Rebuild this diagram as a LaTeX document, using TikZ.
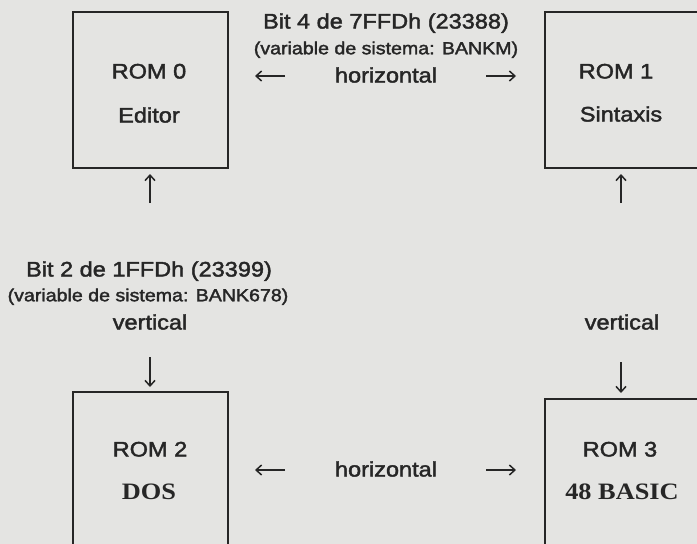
\documentclass[tikz,border=0pt]{standalone}
\usepackage{fontspec}
\setmainfont{Liberation Sans}[FakeStretch=1.12,FakeBold=2]
\newfontfamily\serifbold{Liberation Serif}[FakeStretch=1.12]
\usetikzlibrary{arrows.meta}
\definecolor{paper}{HTML}{E4E4E2}
\definecolor{ink}{HTML}{262626}
\begin{document}
\begin{tikzpicture}[x=1pt,y=-1pt,
  rombox/.style={draw=ink,line width=2.7pt,minimum width=155pt,minimum height=156pt,inner sep=0pt},
  bigtxt/.style={text=ink,inner sep=0pt,anchor=center,text height=15pt,text depth=0pt,font=\fontsize{21}{21}\selectfont},
  smalltxt/.style={text=ink,inner sep=0pt,anchor=center,text height=12.5pt,text depth=0pt,font=\fontsize{17.5}{17.5}\selectfont},
  sertxt/.style={text=ink,inner sep=0pt,anchor=center,text height=15pt,text depth=0pt,font=\fontsize{23.5}{23.5}\serifbold\bfseries},
  arr/.style={draw=ink,line width=1.5pt,-{Straight Barb[length=5.5pt,width=10pt]}}]
\useasboundingbox (0,0) rectangle (697,544);
\fill[paper] (0,0) rectangle (697,544);

% boxes
\node[rombox] (r0) at (150.5,90) {};
\node[rombox] (r1) at (622.5,90) {};
\node[rombox] (r2) at (150.5,470) {};
\node[rombox] (r3) at (622.5,477) {};

% box texts
\node[bigtxt] (r0a) at (149,71) {ROM 0};
\node[bigtxt] (r0b) at (149,115) {Editor};
\node[bigtxt] (r1a) at (616,71) {ROM 1};
\node[bigtxt] (r1b) at (621,114) {Sintaxis};
\node[bigtxt] (r2a) at (150,449) {ROM 2};
\node[sertxt] (r2b) at (149,492) {DOS};
\node[bigtxt] (r3a) at (620,449) {ROM 3};
\node[sertxt] (r3b) at (622,492) {48 BASIC};

% top label group
\node[bigtxt] (t1) at (386,21) {Bit 4 de 7FFDh (23388)};
\node[smalltxt] (t2) at (386,48) {(variable de sistema: BANKM)};
\node[bigtxt] (t3) at (386,75) {horizontal};
\coordinate (tl1) at (285,76); \coordinate (tl2) at (255,76);
\coordinate (tr1) at (486,76); \coordinate (tr2) at (516,76);
\draw[arr] (tl1) -- (tl2);
\draw[arr] (tr1) -- (tr2);

% left column
\coordinate (lu1) at (150,203); \coordinate (lu2) at (150,174);
\draw[arr] (lu1) -- (lu2);
\node[bigtxt] (l1) at (149,269) {Bit 2 de 1FFDh (23399)};
\node[smalltxt] (l2) at (148,295) {(variable de sistema: BANK678)};
\node[bigtxt] (l3) at (150,322) {vertical};
\coordinate (ld1) at (150,357); \coordinate (ld2) at (150,387);
\draw[arr] (ld1) -- (ld2);

% right column
\coordinate (ru1) at (621,203); \coordinate (ru2) at (621,174);
\draw[arr] (ru1) -- (ru2);
\node[bigtxt] (rv) at (622,322) {vertical};
\coordinate (rd1) at (621,362); \coordinate (rd2) at (621,393);
\draw[arr] (rd1) -- (rd2);

% bottom label group
\node[bigtxt] (b1) at (386,469) {horizontal};
\coordinate (bl1) at (285,470); \coordinate (bl2) at (255,470);
\coordinate (br1) at (486,470); \coordinate (br2) at (516,470);
\draw[arr] (bl1) -- (bl2);
\draw[arr] (br1) -- (br2);
\end{tikzpicture}
\end{document}
